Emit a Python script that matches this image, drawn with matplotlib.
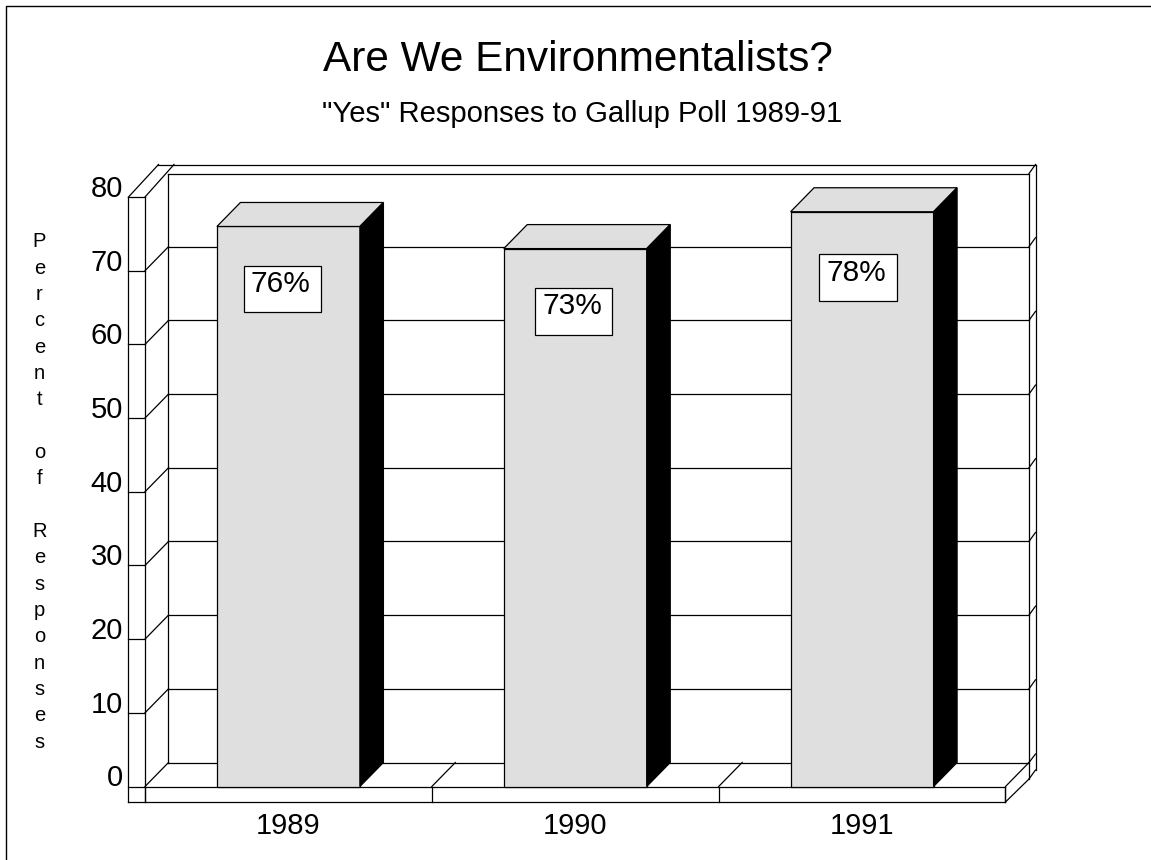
import matplotlib
matplotlib.use('Agg')
import matplotlib.pyplot as plt
from matplotlib.patches import Polygon, Rectangle
from matplotlib.lines import Line2D

years = ['1989', '1990', '1991']
percents = [76, 73, 78]
percent_labels = ['76%', '73%', '78%']
y_ticks = [0, 10, 20, 30, 40, 50, 60, 70, 80]

plt.rcParams['font.family'] = ['Liberation Sans', 'DejaVu Sans']

W, H = 1151, 860
fig = plt.figure(figsize=(W / 100, H / 100), dpi=100)
# front plane of the fake 3d box, in pixels
left, right, base, top = 145, 1005.5, 786.5, 197
ax = fig.add_axes([left / W, 1 - base / H, (right - left) / W, (base - top) / H])
ax.set_xlim(-0.5, 2.5)
ax.set_ylim(0, 80)
for s in ax.spines.values():
    s.set_visible(False)

ux = (right - left) / 3   # px per category
uy = (base - top) / 80    # px per percent
dx = 23.5 / ux            # depth offset
dy = 24 / uy
lw = 0.9


def px(x, y):
    # pixel position to data, for the frame pieces round the box
    return (x - left) / ux - 0.5, (base - y) / uy


def line(p, q, z=1):
    a, b = px(*p), px(*q)
    ax.add_line(Line2D([a[0], b[0]], [a[1], b[1]], color='black', lw=lw, zorder=z,
                       clip_on=False, solid_capstyle='projecting'))


# left slab, back wall, right slab
line((128.5, 197), (128.5, 802))
line((145, 197), (145, 802))
line((168.5, 173.5), (168.5, 762.5))
line((1029, 173.5), (1029, 779))
line((1035.5, 164.5), (1035.5, 770))
line((128.5, 197), (145, 197))
line((128.5, 197), (158.5, 164.5))
line((145, 197), (174, 164.5))
line((158.5, 164.5), (1035.5, 164.5))
line((168.5, 173.5), (1029, 173.5))
line((1029, 173.5), (1035.5, 164.5))

# floor
line((128.5, 786.5), (1005.5, 786.5))
line((128.5, 802), (1005.5, 802))
line((1005.5, 786.5), (1005.5, 802))
line((168.5, 762.5), (1029, 762.5))
line((1005.5, 802), (1029, 779))
line((1029, 779), (1035.5, 770))
line((1029, 762.5), (1035.5, 754))
for i in range(4):
    x = left + i * ux
    line((x, 786.5), (x + 23.5, 762.5))
    line((x, 786.5), (x, 802))

# gridlines run along both slabs and the back wall
for v in y_ticks[1:-1]:
    yf = base - v * uy
    line((128.5, yf), (145, yf))
    line((145, yf), (168.5, yf - 24))
    line((168.5, yf - 24), (1029, yf - 24))
    line((1029, yf - 24), (1035.5, yf - 33))

# bars
bar_w = 0.4985
for i, v in enumerate(percents):
    x0, x1 = i - bar_w / 2, i + bar_w / 2
    ax.bar(i, v, width=bar_w, color='#dfdfdf', edgecolor='black', linewidth=lw, zorder=3, clip_on=False)
    ax.add_patch(Polygon([(x0, v), (x1, v), (x1 + dx, v + dy), (x0 + dx, v + dy)], closed=True,
                         fc='#dfdfdf', ec='black', lw=lw, zorder=3, clip_on=False))
    ax.add_patch(Polygon([(x1, 0), (x1 + dx, dy), (x1 + dx, v + dy), (x1, v)], closed=True,
                         fc='black', ec='black', lw=lw, zorder=3, clip_on=False))

# value boxes, placed by hand as in the original
box_x = [243.7, 535, 819.3]
box_y = [265.7, 288, 254.3]
for lab, bx, by in zip(percent_labels, box_x, box_y):
    x0, y1 = px(bx, by)
    ax.add_patch(Rectangle((x0, y1 - 46.5 / uy), 77.3 / ux, 46.5 / uy, fc='white', ec='black',
                           lw=lw, zorder=4))
    tx, ty = px(bx + 37, by + 18.5)
    ax.text(tx, ty, lab, ha='center', va='center', fontsize=21.5, zorder=5)

ax.set_xticks(range(3), years, fontsize=21)
ax.set_yticks(y_ticks, [str(v) for v in y_ticks], fontsize=21)
for t in ax.get_yticklabels():
    t.set_va('baseline')
ax.tick_params(axis='x', length=0, pad=18.5)
ax.tick_params(axis='y', length=0, pad=16)

fig.text(578 / W, 1 - 70.7 / H, 'Are We Environmentalists?', ha='center', va='baseline', fontsize=30.5)
fig.text(582 / W, 1 - 122.3 / H, '"Yes" Responses to Gallup Poll 1989-91', ha='center', va='baseline', fontsize=21.1)
fig.text(39.3 / W, 1 - 492 / H, '\n'.join('Percent of Responses'.replace(' ', '  ')).replace('\n \n \n', '\n\n'),
         ha='center', va='center', fontsize=14.5, linespacing=1.49)

# page border, only top and left show in the original
fig.add_artist(Line2D([5.5 / W, 5.5 / W, 1], [0, 1 - 5.5 / H, 1 - 5.5 / H], color='black', lw=1,
                      transform=fig.transFigure))

fig.savefig('out.png', dpi=100)
